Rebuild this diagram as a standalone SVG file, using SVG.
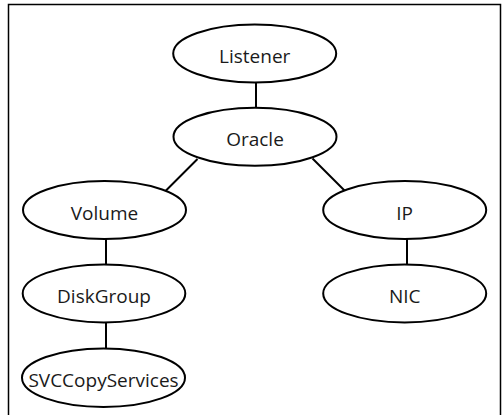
<svg xmlns="http://www.w3.org/2000/svg" width="502" height="415" viewBox="0 0 502 415">
<style>
.n ellipse{fill:#fff;stroke:#000;stroke-width:2}
.n text{font-family:"Open Sans","Liberation Sans",sans-serif;font-size:19px;fill:#1a1a1a;text-anchor:middle}
#edges line{stroke:#000;stroke-width:2}
</style>
<rect width="502" height="415" fill="#fff"/>
<path d="M8.5,415 V4.5 H500.5 V415" fill="none" stroke="#000" stroke-width="1.5"/>
<g id="edges">
<line x1="256" y1="82" x2="256" y2="108"/>
<line x1="197.5" y1="159" x2="165.5" y2="191"/>
<line x1="312.5" y1="158.5" x2="344.5" y2="190.5"/>
<line x1="106" y1="239" x2="106" y2="265"/>
<line x1="407" y1="239" x2="407" y2="265"/>
<line x1="106" y1="322" x2="106" y2="349"/>
</g>
<g id="listener" class="n"><ellipse cx="254.7" cy="53.5" rx="81.5" ry="29"/><text x="254.7" y="63">Listener</text></g>
<g id="oracle" class="n"><ellipse cx="255" cy="136.8" rx="81.5" ry="29"/><text x="255" y="146.3">Oracle</text></g>
<g id="volume" class="n"><ellipse cx="104.5" cy="210" rx="81.5" ry="29"/><text x="104.5" y="219.5">Volume</text></g>
<g id="ip" class="n"><ellipse cx="404.7" cy="210" rx="81.5" ry="29"/><text x="404.7" y="219.5">IP</text></g>
<g id="diskgroup" class="n"><ellipse cx="104" cy="293.4" rx="81.3" ry="29"/><text x="104" y="302.9">DiskGroup</text></g>
<g id="nic" class="n"><ellipse cx="404.7" cy="293.4" rx="81.5" ry="29"/><text x="404.7" y="302.9">NIC</text></g>
<g id="svccopyservices" class="n"><ellipse cx="103.5" cy="377.7" rx="81.5" ry="29.3"/><text x="103.5" y="387.2">SVCCopyServices</text></g>
</svg>
